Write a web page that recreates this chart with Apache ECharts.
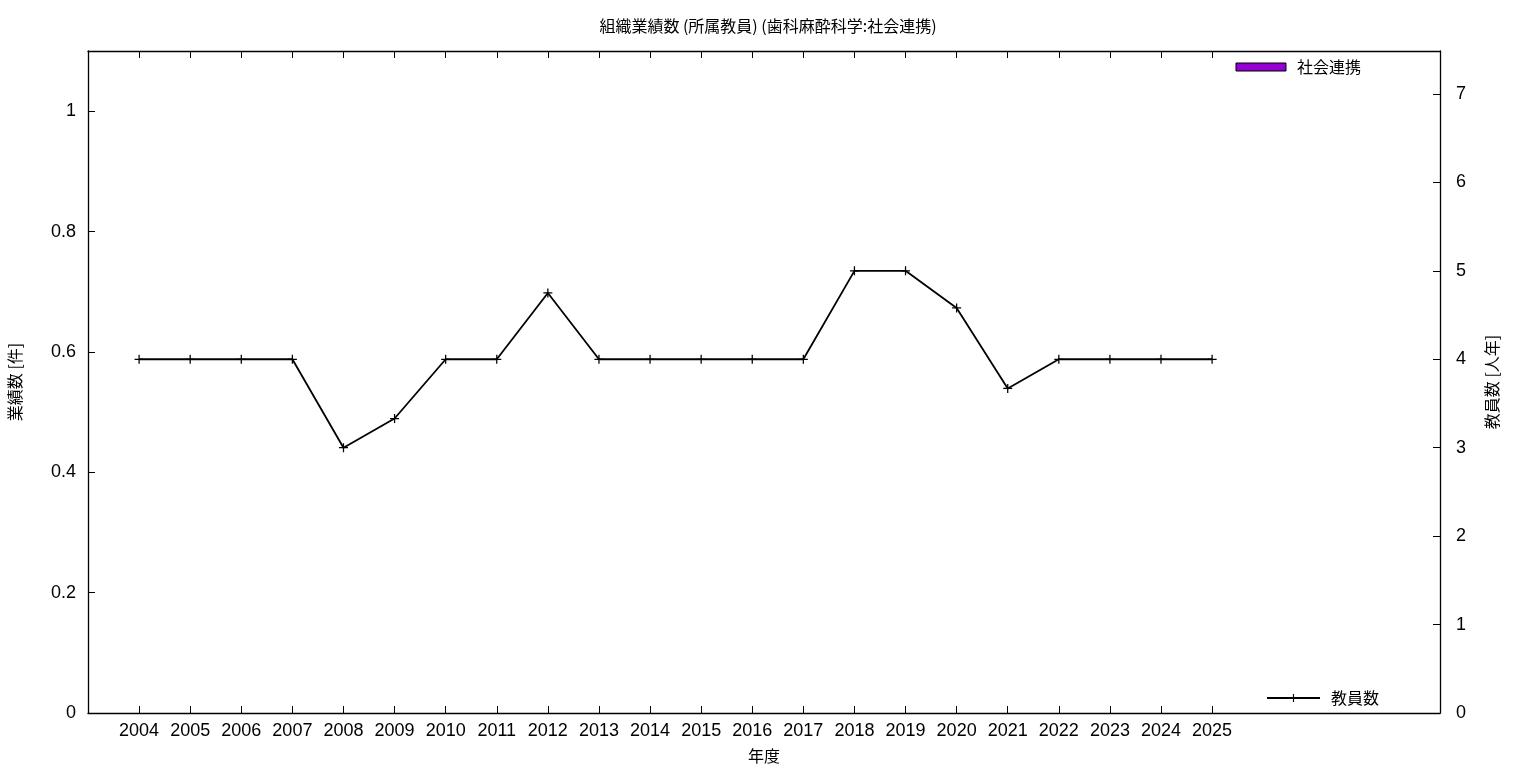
<!DOCTYPE html>
<html>
<head>
<meta charset="utf-8">
<script src="https://cdn.jsdelivr.net/npm/echarts@6/dist/echarts.min.js"></script>
<style>html,body{margin:0;padding:0;background:#fff}#c{width:1536px;height:768px}</style>
</head>
<body>
<div id="c"></div>
<script>
const years = [2004,2005,2006,2007,2008,2009,2010,2011,2012,2013,2014,2015,2016,2017,2018,2019,2020,2021,2022,2023,2024,2025];
const outputs = [0,0,0,0,0,0,0,0,0,0,0,0,0,0,0,0,0,0,0,0,0,0];
const staff = [4,4,4,4,3,3.33,4,4,4.75,4,4,4,4,4,5,5,4.58,3.67,4,4,4,4];
const leftTicks = [0,0.2,0.4,0.6,0.8,1];
const rightTicks = [0,1,2,3,4,5,6,7];

const chart = echarts.init(document.getElementById('c'));
const numFont = 'Liberation Sans, Arial, sans-serif';
const cjkFont = '"Noto Sans CJK JP", sans-serif';
const plus = 'path://M0,4.3H10V5.7H0Z M4.3,0H5.7V10H4.3Z';
chart.setOption({
  animation: false,
  backgroundColor: '#fff',
  title: {
    text: '組織業績数 (所属教員) (歯科麻酔科学:社会連携)',
    left: 'center', top: 13,
    textStyle: {fontFamily: cjkFont, fontSize: 16, fontWeight: 'normal', color: '#000'}
  },
  legend: [
    {data: [{name: '社会連携', icon: 'rect', itemStyle: {color: '#9400d3', borderColor: '#000', borderWidth: 1}}],
     right: 170, top: 54, itemWidth: 50, itemHeight: 8, itemGap: 10,
     textStyle: {fontFamily: cjkFont, fontSize: 16, color: '#000', padding: [0, 0, 0, 6]}},
    {data: [{name: '教員数'}], right: 152, top: 685, itemWidth: 53, itemHeight: 10, itemGap: 10,
     textStyle: {fontFamily: cjkFont, fontSize: 16, color: '#000', padding: [0, 0, 0, 6]}}
  ],
  grid: {left: 88, right: 96, top: 51, bottom: 55, containLabel: false, outerBoundsMode: 'none'},
  xAxis: [
    {type: 'value', min: 2003, max: 2029.46, interval: 1, position: 'bottom',
     name: '年度', nameLocation: 'middle', nameGap: 35,
     nameTextStyle: {fontFamily: cjkFont, fontSize: 16, color: '#000'},
     axisLine: {show: true, onZero: false, lineStyle: {color: '#000', width: 1.3}},
     axisTick: {show: true, inside: true, length: 7, customValues: years, lineStyle: {color: '#000'}},
     axisLabel: {customValues: years, fontFamily: numFont, fontSize: 18, color: '#000', margin: 9,
                 formatter: v => String(v)},
     splitLine: {show: false}},
    {type: 'value', min: 2003, max: 2029.46, interval: 1, position: 'top',
     axisLine: {show: true, onZero: false, lineStyle: {color: '#000', width: 1.3}},
     axisTick: {show: true, inside: true, length: 7, customValues: years, lineStyle: {color: '#000'}},
     axisLabel: {show: false}, splitLine: {show: false}}
  ],
  yAxis: [
    {type: 'value', min: 0, max: 1.1, position: 'left',
     name: '業績数 [件]', nameLocation: 'middle', nameGap: 65, nameRotate: 90,
     nameTextStyle: {fontFamily: cjkFont, fontSize: 16, color: '#000'},
     axisLine: {show: true, onZero: false, lineStyle: {color: '#000', width: 1.3}},
     axisTick: {show: true, inside: true, length: 7, customValues: leftTicks, lineStyle: {color: '#000'}},
     axisLabel: {customValues: leftTicks, fontFamily: numFont, fontSize: 18, color: '#000', margin: 12,
                 formatter: v => String(Math.round(v * 10) / 10)},
     splitLine: {show: false}},
    {type: 'value', min: 0, max: 7.486, position: 'right',
     name: '教員数 [人年]', nameLocation: 'middle', nameGap: 44, nameRotate: 90,
     nameTextStyle: {fontFamily: cjkFont, fontSize: 16, color: '#000'},
     axisLine: {show: true, onZero: false, lineStyle: {color: '#000', width: 1.3}},
     axisTick: {show: true, inside: true, length: 7, customValues: rightTicks, lineStyle: {color: '#000'}},
     axisLabel: {customValues: rightTicks, fontFamily: numFont, fontSize: 18, color: '#000', margin: 16,
                 formatter: v => String(v)},
     splitLine: {show: false}}
  ],
  series: [
    {name: '社会連携', type: 'bar', xAxisIndex: 0, yAxisIndex: 0, barWidth: 30,
     itemStyle: {color: '#9400d3', borderWidth: 0},
     data: years.map((y, i) => [y, outputs[i]])},
    {name: '教員数', type: 'line', xAxisIndex: 0, yAxisIndex: 1,
     symbol: plus, symbolSize: 9, showSymbol: true,
     lineStyle: {color: '#000', width: 1.8}, itemStyle: {color: '#000'},
     data: years.map((y, i) => [y, staff[i]])}
  ]
});
</script>
</body>
</html>
